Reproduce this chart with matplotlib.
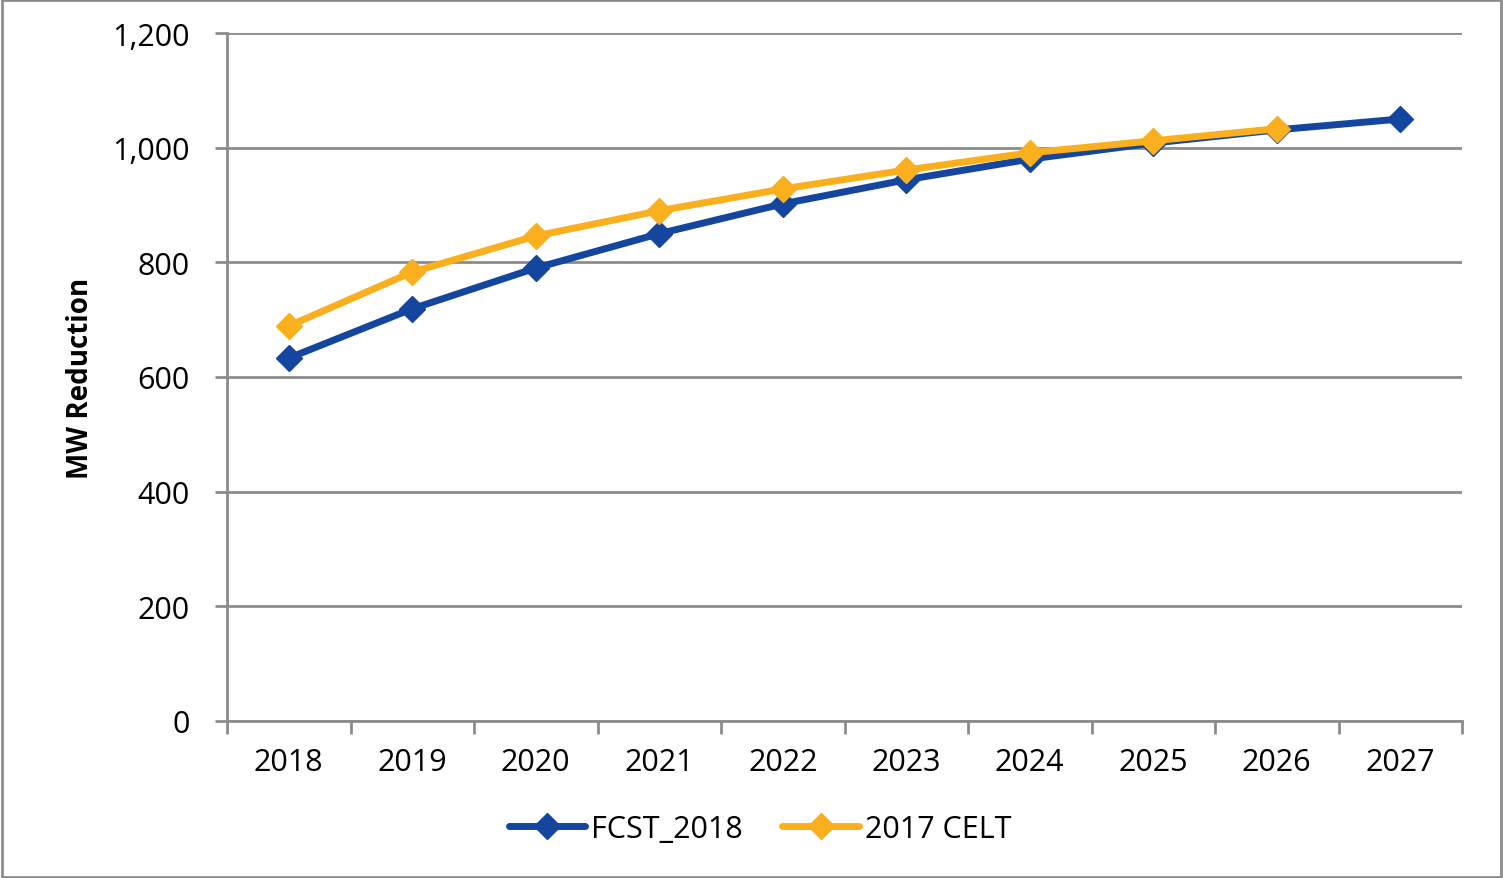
import matplotlib
matplotlib.use("Agg")
import matplotlib.pyplot as plt
from matplotlib.ticker import FuncFormatter, MultipleLocator, FixedLocator
from matplotlib.patches import Rectangle

years = ["2018", "2019", "2020", "2021", "2022", "2023", "2024", "2025", "2026", "2027"]
fcst_2018 = [633, 719, 790, 850, 902, 944, 980, 1008, 1031, 1050]
celt_2017 = [689, 783, 846, 890, 928, 961, 991, 1012, 1033]

plt.rcParams['font.family'] = ['Open Sans', 'DejaVu Sans']

fig = plt.figure(figsize=(15.03, 8.79), dpi=100)
ax = fig.add_axes([227/1503, 1 - 722/879, (1462-227)/1503, (722-34)/879])

x = list(range(len(years)))
ax.plot(x, fcst_2018, color="#1446A0", lw=5, marker="D", ms=13, label="FCST_2018",
        solid_capstyle="round", zorder=3)
ax.plot(x[:len(celt_2017)], celt_2017, color="#FAAF1E", lw=5, marker="D", ms=13,
        label="2017 CELT", solid_capstyle="round", zorder=4)

ax.set_xlim(-0.5, len(years) - 0.5)
ax.set_ylim(0, 1200)
ax.yaxis.set_major_locator(MultipleLocator(200))
ax.yaxis.set_major_formatter(FuncFormatter(lambda v, p: f"{int(v):,}"))
ax.set_xticks(x)
ax.set_xticklabels(years)
ax.tick_params(axis='x', length=0, labelsize=22, pad=19)
ax.xaxis.set_minor_locator(FixedLocator([i - 0.5 for i in range(len(years) + 1)]))
ax.tick_params(axis='x', which='minor', length=9, width=2, color="#8C8C8C")
ax.tick_params(axis='y', length=9, width=2, color="#8C8C8C", labelsize=22, pad=18)
ax.grid(axis='y', color="#8C8C8C", lw=2)
ax.set_axisbelow(True)
for s in ["top", "right"]:
    ax.spines[s].set_visible(False)
for s in ["left", "bottom"]:
    ax.spines[s].set_color("#8C8C8C")
    ax.spines[s].set_linewidth(2)

ax.set_ylabel("MW Reduction", fontsize=20, fontweight="bold", labelpad=12)

leg = fig.legend(loc="center", bbox_to_anchor=(760/1503, 1 - 830/879), ncol=2, frameon=False,
                 fontsize=22, handlelength=2.5, handletextpad=0.2, columnspacing=1.3)

fig.patches.append(Rectangle((0.001, 0.001), 0.998, 0.998, transform=fig.transFigure,
                             fill=False, edgecolor="#8C8C8C", lw=2))

fig.savefig("out.png", dpi=100)
